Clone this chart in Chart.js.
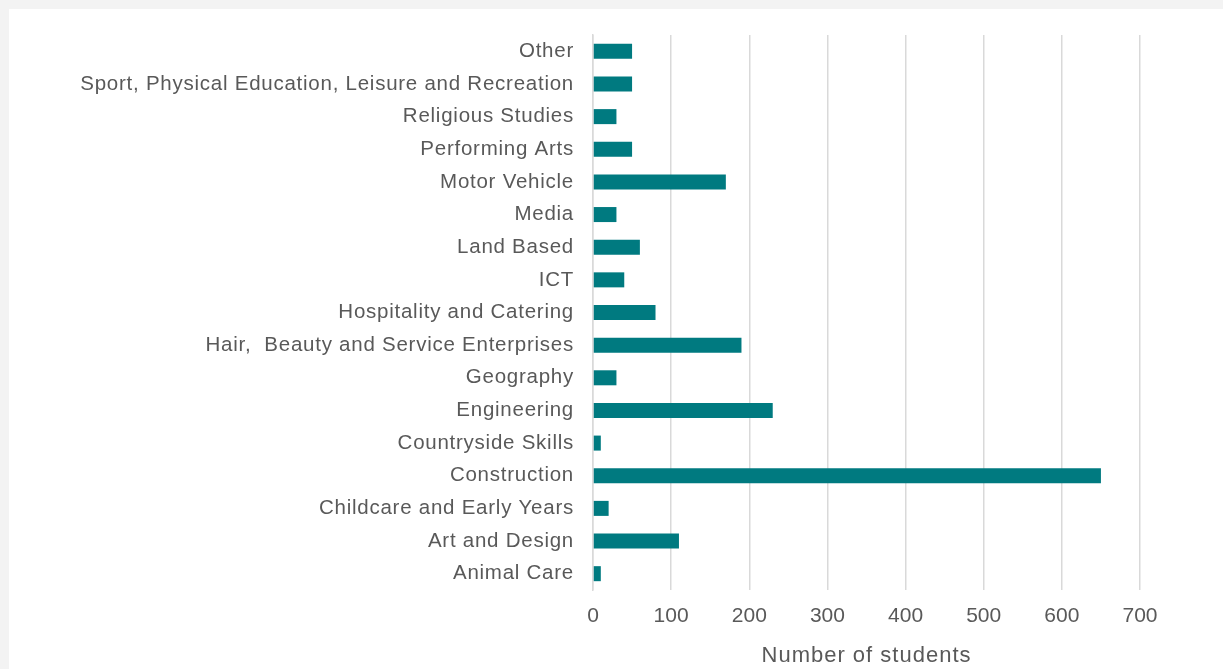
<!DOCTYPE html>
<html>
<head>
<meta charset="utf-8">
<script src="https://cdn.jsdelivr.net/npm/chart.js@4/dist/chart.umd.min.js"></script>
<style>
  html, body { margin: 0; padding: 0; background: #f3f3f3; }
  #wrap { position: absolute; left: 9px; top: 9px; width: 1214px; height: 660px; background: #ffffff; }
  canvas { display: block; }
</style>
</head>
<body>
<div id="wrap"><canvas id="c" width="1214" height="660"></canvas></div>
<script>
const categories = [
  "Other",
  "Sport, Physical Education, Leisure and Recreation",
  "Religious Studies",
  "Performing Arts",
  "Motor Vehicle",
  "Media",
  "Land Based",
  "ICT",
  "Hospitality and Catering",
  "Hair,  Beauty and Service Enterprises",
  "Geography",
  "Engineering",
  "Countryside Skills",
  "Construction",
  "Childcare and Early Years",
  "Art and Design",
  "Animal Care"
];
const students = [50, 50, 30, 50, 170, 30, 60, 40, 80, 190, 30, 230, 10, 650, 20, 110, 10];
const xTicks = [0, 100, 200, 300, 400, 500, 600, 700];
const xTitle = "Number of students";

const FONT = "'Liberation Sans', Arial, sans-serif";
const TEXT = "#595959";
const GRID = "#d9d9d9";

// wrap a scale drawing method so its text uses some letter spacing
function withSpacing(scale, method, spacing) {
  if (scale['_sp_' + method]) return;
  const orig = scale[method].bind(scale);
  scale[method] = function (...args) {
    const ctx = scale.ctx;
    const prev = ctx.letterSpacing;
    ctx.letterSpacing = spacing;
    orig(...args);
    ctx.letterSpacing = prev || '0px';
  };
  scale['_sp_' + method] = true;
}

new Chart(document.getElementById('c'), {
  type: 'bar',
  data: {
    labels: categories,
    datasets: [{
      data: students,
      backgroundColor: '#007a80',
      borderWidth: 0,
      categoryPercentage: 1,
      barPercentage: 0.46
    }]
  },
  options: {
    indexAxis: 'y',
    responsive: false,
    animation: false,
    maintainAspectRatio: false,
    layout: { padding: { top: 26, right: 83, bottom: 0, left: 0 } },
    plugins: { legend: { display: false }, tooltip: { enabled: false } },
    scales: {
      x: {
        min: 0,
        max: 700,
        afterBuildTicks: s => { s.ticks = xTicks.map(v => ({ value: v })); },
        afterFit: s => { s.height = 79; withSpacing(s, 'drawTitle', '1px'); },
        grid: { color: GRID, lineWidth: 1.5, drawTicks: false },
        border: { display: false },
        ticks: { color: TEXT, font: { family: FONT, size: 21 }, padding: 14 },
        title: {
          display: true,
          text: xTitle,
          color: TEXT,
          font: { family: FONT, size: 22 },
          padding: { top: 4, bottom: 0 }
        }
      },
      y: {
        afterFit: s => {
          s.width = 584;
          s.paddingTop = 0;
          s.paddingBottom = 0;
          withSpacing(s, 'drawLabels', '0.75px');
        },
        grid: { display: false, drawTicks: false },
        border: { display: true, color: GRID, width: 1.5 },
        ticks: { color: TEXT, font: { family: FONT, size: 20.5 }, padding: 19, autoSkip: false }
      }
    }
  }
});
</script>
</body>
</html>
